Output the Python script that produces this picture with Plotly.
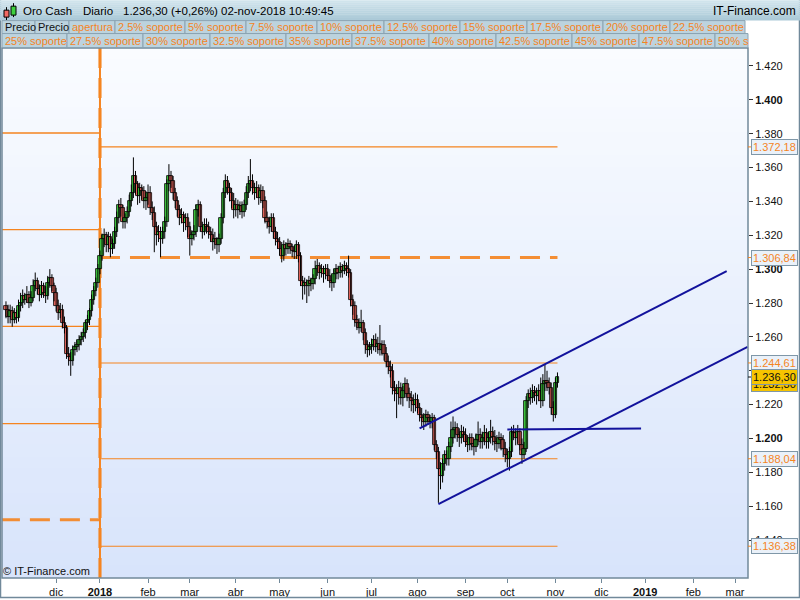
import plotly.graph_objects as go
import pandas as pd

# ---------------- data ----------------
first_day = "2017-10-30"   # first trading day on the chart (weekdays only)

opens = [
    1278, 1276,
    1272, 1275, 1270, 1274, 1271, 1278, 1280, 1284, 1282, 1285, 1280, 1283, 1290, 1293, 1288, 1285, 1290, 1286, 1284, 1292, 1295, 1290,
    1286, 1278, 1274, 1276, 1268, 1265, 1250, 1248, 1246, 1252, 1254, 1255, 1258, 1260, 1262, 1268, 1270, 1275, 1282, 1287, 1292,
    1300, 1308, 1318, 1320, 1314, 1319, 1312, 1315, 1322, 1330, 1338, 1336, 1328, 1330, 1334, 1340, 1345, 1355, 1350, 1343, 1348, 1346, 1340,
    1342, 1345, 1336, 1333, 1325, 1320, 1322, 1318, 1322, 1328, 1350, 1355, 1352, 1345, 1340, 1335, 1330, 1332, 1327, 1330,
    1325, 1318, 1320, 1322, 1335, 1338, 1325, 1322, 1326, 1325, 1322, 1320, 1316, 1318, 1314, 1318, 1330, 1345, 1352, 1348, 1345, 1340,
    1335, 1338, 1335, 1337, 1334, 1338, 1345, 1350, 1352, 1348, 1345, 1348, 1342, 1346, 1340, 1330, 1328, 1325, 1330, 1322, 1318,
    1316, 1312, 1308, 1314, 1312, 1315, 1313, 1311, 1310, 1314, 1308, 1293, 1290, 1292, 1290, 1293, 1291, 1294, 1300, 1302, 1298, 1300, 1297,
    1300, 1296, 1293, 1292, 1297, 1300, 1298, 1301, 1299, 1302, 1300, 1298, 1282, 1278, 1270, 1268, 1265, 1268, 1262, 1255, 1252,
    1254, 1255, 1258, 1254, 1256, 1252, 1255, 1250, 1245, 1242, 1240, 1230, 1228, 1226, 1230, 1224, 1228, 1232, 1226, 1224, 1222, 1220,
    1223, 1218, 1214, 1212, 1210, 1214, 1212, 1210, 1212, 1196, 1192, 1182, 1178, 1185, 1190, 1188, 1195, 1200, 1205, 1206, 1202, 1200, 1204,
    1202, 1198, 1196, 1200, 1197, 1195, 1199, 1202, 1198, 1200, 1203, 1198, 1200, 1204, 1201, 1198, 1197, 1200, 1199, 1194,
    1190, 1188, 1192, 1204, 1203, 1200, 1204, 1196, 1190, 1194, 1222, 1226, 1224, 1228, 1227, 1225, 1228, 1222, 1232, 1234, 1233, 1230, 1218,
    1214, 1233,
]
highs = [
    1281, 1279,
    1279, 1278, 1277, 1276, 1282, 1286, 1288, 1286, 1290, 1287, 1287, 1294, 1298, 1295, 1291, 1293, 1292, 1290, 1296, 1300, 1297, 1292,
    1289, 1282, 1280, 1279, 1272, 1267, 1254, 1251, 1255, 1257, 1258, 1261, 1263, 1265, 1270, 1273, 1277, 1285, 1290, 1295, 1303,
    1311, 1321, 1324, 1322, 1322, 1321, 1318, 1325, 1334, 1341, 1342, 1338, 1333, 1337, 1344, 1350, 1366, 1358, 1352, 1351, 1350, 1349, 1346,
    1350, 1349, 1340, 1337, 1328, 1326, 1325, 1325, 1331, 1353, 1362, 1358, 1355, 1348, 1343, 1338, 1336, 1334, 1333, 1333,
    1328, 1323, 1326, 1338, 1341, 1340, 1328, 1330, 1330, 1328, 1325, 1324, 1322, 1319, 1321, 1333, 1348, 1356, 1355, 1351, 1348, 1345,
    1342, 1341, 1340, 1340, 1341, 1349, 1355, 1365, 1356, 1351, 1352, 1350, 1350, 1349, 1343, 1334, 1331, 1333, 1333, 1325, 1322,
    1319, 1316, 1317, 1316, 1318, 1317, 1315, 1314, 1317, 1316, 1310, 1296, 1295, 1294, 1296, 1295, 1297, 1305, 1306, 1304, 1303, 1302, 1303,
    1303, 1300, 1297, 1300, 1303, 1302, 1304, 1303, 1305, 1304, 1308, 1300, 1285, 1281, 1273, 1271, 1276, 1270, 1265, 1258, 1257,
    1259, 1261, 1262, 1260, 1267, 1258, 1258, 1254, 1249, 1246, 1244, 1234, 1232, 1234, 1233, 1231, 1236, 1235, 1230, 1228, 1226, 1227,
    1226, 1221, 1218, 1215, 1217, 1216, 1214, 1215, 1214, 1199, 1195, 1186, 1188, 1193, 1193, 1198, 1210, 1213, 1210, 1209, 1206, 1208, 1207,
    1206, 1202, 1203, 1203, 1200, 1203, 1210, 1206, 1204, 1208, 1206, 1204, 1211, 1207, 1205, 1202, 1204, 1203, 1202, 1198,
    1194, 1195, 1207, 1208, 1206, 1208, 1206, 1200, 1198, 1225, 1229, 1230, 1232, 1231, 1230, 1232, 1236, 1238, 1244, 1240, 1236, 1233, 1222,
    1236, 1239,
]
lows = [
    1271, 1268,
    1268, 1266, 1268, 1268, 1269, 1275, 1277, 1279, 1280, 1277, 1278, 1281, 1287, 1285, 1281, 1283, 1283, 1280, 1282, 1289, 1287, 1281,
    1275, 1270, 1271, 1265, 1262, 1247, 1243, 1237, 1243, 1249, 1251, 1252, 1255, 1257, 1259, 1264, 1267, 1272, 1279, 1284, 1289,
    1297, 1305, 1313, 1310, 1310, 1307, 1309, 1312, 1319, 1327, 1331, 1324, 1324, 1327, 1331, 1337, 1342, 1344, 1338, 1339, 1341, 1336, 1335,
    1338, 1332, 1329, 1310, 1314, 1316, 1307, 1315, 1318, 1325, 1346, 1348, 1341, 1336, 1331, 1326, 1327, 1322, 1323, 1319,
    1308, 1314, 1317, 1319, 1331, 1322, 1318, 1320, 1321, 1318, 1316, 1311, 1312, 1309, 1310, 1315, 1327, 1342, 1344, 1340, 1336, 1330,
    1331, 1330, 1332, 1330, 1331, 1335, 1342, 1346, 1344, 1341, 1342, 1338, 1339, 1336, 1327, 1324, 1321, 1322, 1318, 1314, 1312,
    1308, 1304, 1305, 1308, 1309, 1309, 1307, 1306, 1306, 1304, 1290, 1282, 1285, 1280, 1284, 1287, 1288, 1291, 1296, 1294, 1295, 1292, 1294,
    1293, 1289, 1287, 1289, 1294, 1294, 1295, 1295, 1297, 1296, 1295, 1278, 1273, 1266, 1264, 1262, 1263, 1258, 1250, 1248, 1249,
    1250, 1252, 1251, 1250, 1249, 1249, 1246, 1242, 1238, 1236, 1226, 1222, 1212, 1220, 1220, 1219, 1224, 1222, 1218, 1216, 1215, 1216,
    1215, 1210, 1207, 1205, 1207, 1208, 1206, 1206, 1193, 1188, 1162, 1170, 1174, 1181, 1184, 1184, 1192, 1197, 1200, 1198, 1195, 1197, 1198,
    1195, 1192, 1193, 1193, 1190, 1192, 1196, 1194, 1194, 1196, 1194, 1194, 1197, 1196, 1193, 1192, 1194, 1193, 1189, 1186,
    1183, 1181, 1189, 1199, 1196, 1197, 1193, 1185, 1188, 1192, 1218, 1220, 1221, 1222, 1220, 1222, 1218, 1219, 1228, 1228, 1226, 1214, 1210,
    1212, 1230,
]
closes = [
    1276, 1272,
    1275, 1270, 1274, 1271, 1278, 1280, 1284, 1282, 1285, 1280, 1283, 1290, 1293, 1288, 1285, 1290, 1286, 1284, 1292, 1295, 1290, 1286,
    1278, 1274, 1276, 1268, 1265, 1250, 1248, 1246, 1252, 1254, 1255, 1258, 1260, 1262, 1268, 1270, 1275, 1282, 1287, 1292, 1300,
    1308, 1318, 1320, 1314, 1319, 1312, 1315, 1322, 1330, 1338, 1336, 1328, 1330, 1334, 1340, 1345, 1355, 1350, 1343, 1348, 1346, 1340, 1342,
    1345, 1336, 1333, 1325, 1320, 1322, 1318, 1322, 1328, 1350, 1355, 1352, 1345, 1340, 1335, 1330, 1332, 1327, 1330, 1325,
    1318, 1320, 1322, 1335, 1338, 1325, 1322, 1326, 1325, 1322, 1320, 1316, 1318, 1314, 1318, 1330, 1345, 1352, 1348, 1345, 1340, 1335,
    1338, 1335, 1337, 1334, 1338, 1345, 1350, 1352, 1348, 1345, 1348, 1342, 1346, 1340, 1330, 1328, 1325, 1330, 1322, 1318, 1316,
    1312, 1308, 1314, 1312, 1315, 1313, 1311, 1310, 1314, 1308, 1293, 1290, 1292, 1290, 1293, 1291, 1294, 1300, 1302, 1298, 1300, 1297, 1300,
    1296, 1293, 1292, 1297, 1300, 1298, 1301, 1299, 1302, 1300, 1298, 1282, 1278, 1270, 1268, 1265, 1268, 1262, 1255, 1252, 1254,
    1255, 1258, 1254, 1256, 1252, 1255, 1250, 1245, 1242, 1240, 1230, 1228, 1226, 1230, 1224, 1228, 1232, 1226, 1224, 1222, 1220, 1223,
    1218, 1214, 1212, 1210, 1214, 1212, 1210, 1212, 1196, 1192, 1182, 1178, 1185, 1190, 1188, 1195, 1200, 1205, 1206, 1202, 1200, 1204, 1202,
    1198, 1196, 1200, 1197, 1195, 1199, 1202, 1198, 1200, 1203, 1198, 1200, 1204, 1201, 1198, 1197, 1200, 1199, 1194, 1190,
    1188, 1192, 1204, 1203, 1200, 1204, 1196, 1190, 1194, 1222, 1226, 1224, 1228, 1227, 1225, 1228, 1222, 1232, 1234, 1233, 1230, 1218, 1214,
    1233, 1236.3,
]

last_price = 1236.30
last_price_shadow = 1232.30

year_open_2018 = 1306.84
levels_2018 = [1437.52, 1372.18, 1244.61, 1188.04, 1136.38]
year_open_2017 = 1152.0
levels_2017 = [1380.4, 1323.3, 1266.2, 1208.8]

upper_channel = [("2018-08-02", 1205.9), ("2019-02-25", 1298.8)]
lower_channel = [("2018-08-15", 1161.2), ("2019-03-11", 1254.1)]
flat_line = [("2018-10-01", 1205.3), ("2018-12-28", 1205.9)]

month_starts = ["2017-12-01", "2018-01-01", "2018-02-01", "2018-03-01", "2018-04-01", "2018-05-01",
                "2018-06-01", "2018-07-01", "2018-08-01", "2018-09-01", "2018-10-01", "2018-11-01",
                "2018-12-01", "2019-01-01", "2019-02-01", "2019-03-01"]
month_labels = ["dic", "2018", "feb", "mar", "abr", "may", "jun", "jul", "ago", "sep", "oct", "nov",
                "dic", "2019", "feb", "mar"]
year_labels = ["2018", "2019"]

y_tick_values = [1140, 1160, 1180, 1200, 1220, 1240, 1260, 1280, 1300, 1320, 1340, 1360, 1380, 1400, 1420]
bold_y_ticks = [1200, 1300, 1400]

title_parts = ["Oro Cash", "Diario", "1.236,30 (+0,26%)", "02-nov-2018 10:49:45"]
brand = "IT-Finance.com"
copyright_text = "© IT-Finance.com"
legend_row1 = ["Precio", "Precio", "apertura", "2.5% soporte", "5% soporte", "7.5% soporte", "10% soporte",
               "12.5% soporte", "15% soporte", "17.5% soporte", "20% soporte", "22.5% soporte"]
legend_row2 = ["25% soporte", "27.5% soporte", "30% soporte", "32.5% soporte", "35% soporte", "37.5% soporte",
               "40% soporte", "42.5% soporte", "45% soporte", "47.5% soporte", "50% s"]

# ---------------- layout helpers ----------------
W, H = 800, 600
PL, PR, PT, PB = 2, 748, 48, 580
ORANGE = "#f5841f"
NAVY = "#12129c"
FONT = "Liberation Sans, Arial, sans-serif"
UP_FILL, DOWN_FILL = "#3fd03f", "#f26a62"

row1_edges = [2, 35, 69, 115, 185, 246, 317, 384, 460, 527, 603, 670, 745]
row2_edges = [2, 67, 143, 210, 286, 352, 429, 496, 572, 639, 715, 748]


def px_x(x):
    return (x - PL) / (PR - PL)


def px_y(y):
    return (PB - y) / (PB - PT)


def es_num(v):
    s = f"{v:,.2f}"
    return s.replace(",", "X").replace(".", ",").replace("X", ".")


days = pd.bdate_range(first_day, periods=420)


def day_pos(s):
    d = pd.Timestamp(s)
    return int((days < d).sum())


n = len(closes)
xs = list(range(n))
jan2018 = day_pos("2018-01-01")
x_min, x_max = -1.9, 355.2

shapes = []
annotations = []

# plot background gradient
N = 44
top_c, bot_c = (250, 252, 255), (216, 228, 251)
for k in range(N):
    t = k / (N - 1)
    c = tuple(round(top_c[j] + (bot_c[j] - top_c[j]) * t) for j in range(3))
    shapes.append(dict(type="rect", xref="paper", yref="paper", x0=0, x1=1,
                       y0=1 - (k + 1) / N, y1=1 - k / N + 0.002,
                       fillcolor=f"rgb{c}", line_width=0, layer="below"))

# 2017 levels (left of year start)
for v in levels_2017:
    shapes.append(dict(type="line", xref="x", yref="y", x0=x_min - 1, x1=jan2018, y0=v, y1=v,
                       line=dict(color=ORANGE, width=1.3), layer="below"))
shapes.append(dict(type="line", xref="x", yref="y", x0=x_min - 1, x1=jan2018, y0=year_open_2017, y1=year_open_2017,
                   line=dict(color=ORANGE, width=3, dash="20px,10px"), opacity=0.9, layer="below"))
# 2018 levels
for v in levels_2018:
    shapes.append(dict(type="line", xref="x", yref="y", x0=jan2018, x1=n - 1, y0=v, y1=v,
                       line=dict(color=ORANGE, width=1.1), layer="below"))
shapes.append(dict(type="line", xref="x", yref="y", x0=jan2018, x1=n - 1, y0=year_open_2018, y1=year_open_2018,
                   line=dict(color=ORANGE, width=3, dash="20px,10px"), opacity=0.9, layer="below"))
# vertical year-start line
shapes.append(dict(type="line", xref="x", yref="paper", x0=jan2018, x1=jan2018, y0=0, y1=1,
                   line=dict(color=ORANGE, width=4, dash="20px,10px"), opacity=0.55, layer="below"))
shapes.append(dict(type="line", xref="x", yref="paper", x0=jan2018, x1=jan2018, y0=0, y1=1,
                   line=dict(color=ORANGE, width=2), layer="below"))

# trend lines
for seg in (upper_channel, lower_channel, flat_line):
    (d0, v0), (d1, v1) = seg
    shapes.append(dict(type="line", xref="x", yref="y", x0=day_pos(d0), x1=day_pos(d1), y0=v0, y1=v1,
                       line=dict(color=NAVY, width=2)))

# plot frame
shapes.append(dict(type="rect", xref="paper", yref="paper", x0=0, x1=1, y0=0, y1=1,
                   line=dict(color="#71899a", width=1.5)))
# outer frame
shapes.append(dict(type="line", xref="paper", yref="paper", x0=px_x(0.5), x1=px_x(0.5), y0=px_y(600), y1=px_y(0),
                   line=dict(color="#71899a", width=1.5)))
shapes.append(dict(type="line", xref="paper", yref="paper", x0=px_x(799.5), x1=px_x(799.5), y0=px_y(600), y1=px_y(0),
                   line=dict(color="#71899a", width=1.5)))
shapes.append(dict(type="line", xref="paper", yref="paper", x0=px_x(0), x1=px_x(800), y0=px_y(599.5), y1=px_y(599.5),
                   line=dict(color="#71899a", width=1.5)))

# header bar gradient
hb_top, hb_bot = (208, 228, 236), (172, 202, 216)
NB = 10
for k in range(NB):
    t = k / (NB - 1)
    c = tuple(round(hb_top[j] + (hb_bot[j] - hb_top[j]) * t) for j in range(3))
    y0 = 20 * k / NB
    y1 = 20 * (k + 1) / NB + 0.3
    shapes.append(dict(type="rect", xref="paper", yref="paper", x0=px_x(0), x1=px_x(800),
                       y0=px_y(y1), y1=px_y(y0), fillcolor=f"rgb{c}", line_width=0))

# candle icon
shapes += [
    dict(type="line", xref="paper", yref="paper", x0=px_x(6.5), x1=px_x(6.5), y0=px_y(20), y1=px_y(7), line=dict(color="black", width=1)),
    dict(type="rect", xref="paper", yref="paper", x0=px_x(4), x1=px_x(9), y0=px_y(17), y1=px_y(10), fillcolor=DOWN_FILL, line=dict(color="black", width=1)),
    dict(type="line", xref="paper", yref="paper", x0=px_x(13.5), x1=px_x(13.5), y0=px_y(17), y1=px_y(3), line=dict(color="black", width=1)),
    dict(type="rect", xref="paper", yref="paper", x0=px_x(11), x1=px_x(16), y0=px_y(15), y1=px_y(6), fillcolor=UP_FILL, line=dict(color="black", width=1)),
]


def cell_row(labels, edges, y0, y1):
    for i, lab in enumerate(labels):
        a, b = edges[i], edges[i + 1]
        shapes.append(dict(type="rect", xref="paper", yref="paper", x0=px_x(a), x1=px_x(b),
                           y0=px_y(y1), y1=px_y(y0), fillcolor="#bcd3de",
                           line=dict(color="#8aa3b2", width=1)))
        col = "#111111" if lab == "Precio" else ORANGE
        annotations.append(dict(xref="paper", yref="paper", x=px_x(a + 1), y=px_y((y0 + y1) / 2),
                                text=lab, showarrow=False, xanchor="left", yanchor="middle",
                                font=dict(family=FONT, size=11, color=col)))


cell_row(legend_row1, row1_edges, 20.5, 33.5)
cell_row(legend_row2, row2_edges, 33.5, 47.5)

# title texts
for txt, x in zip(title_parts, [21, 81, 121, 219]):
    annotations.append(dict(xref="paper", yref="paper", x=px_x(x), y=px_y(10.5), text=txt, showarrow=False,
                            xanchor="left", yanchor="middle", font=dict(family=FONT, size=11.5, color="#000000")))
annotations.append(dict(xref="paper", yref="paper", x=px_x(798), y=px_y(10.5), text=brand, showarrow=False,
                        xanchor="right", yanchor="middle", font=dict(family=FONT, size=12, color="#000000")))
annotations.append(dict(xref="paper", yref="paper", x=px_x(1), y=px_y(573), text=copyright_text, showarrow=False,
                        xanchor="left", yanchor="middle", font=dict(family=FONT, size=11, color="#111111")))

# price tags on the right
tag_values = [year_open_2018] + levels_2018
for v in tag_values:
    shapes.append(dict(type="line", xref="paper", yref="y", x0=1, x1=px_x(753), y0=v, y1=v,
                       line=dict(color=ORANGE, width=1)))
    annotations.append(dict(xref="paper", yref="y", x=px_x(751), y=v, text=es_num(v), showarrow=False,
                            xanchor="left", yanchor="middle", bgcolor="#eaf1f9", bordercolor="#7f97a8",
                            borderwidth=1, borderpad=1, font=dict(family=FONT, size=11, color=ORANGE)))
for v in (last_price_shadow, last_price):
    annotations.append(dict(xref="paper", yref="y", x=px_x(751), y=v, text=es_num(v), showarrow=False,
                            xanchor="left", yanchor="middle", bgcolor="#f6c400", bordercolor="#7f97a8",
                            borderwidth=1, borderpad=1, font=dict(family=FONT, size=11, color="#111111")))
shapes.append(dict(type="line", xref="paper", yref="y", x0=1, x1=px_x(753), y0=last_price, y1=last_price,
                   line=dict(color="#111111", width=1)))

# axis ticks
y_text = []
for v in y_tick_values:
    s = f"{v:,}".replace(",", ".")
    y_text.append(f"<b>{s}</b>" if v in bold_y_ticks else s)
x_vals = [day_pos(m) for m in month_starts]
x_text = [f"<b>{t}</b>" if t in year_labels else t for t in month_labels]

# candles: wicks + bodies
wick_x, wick_y = [], []
for i, (h, l) in enumerate(zip(highs, lows)):
    wick_x += [i, i, None]
    wick_y += [l, h, None]
body_base = [min(o, c) for o, c in zip(opens, closes)]
body_h = [max(abs(c - o), 0.6) for o, c in zip(opens, closes)]
body_col = [UP_FILL if c >= o else DOWN_FILL for o, c in zip(opens, closes)]

fig = go.Figure()
fig.add_trace(go.Scatter(x=wick_x, y=wick_y, mode="lines", line=dict(color="#000000", width=1),
                         hoverinfo="skip"))
fig.add_trace(go.Bar(x=xs, y=body_h, base=body_base, width=1.6,
                     marker=dict(color=body_col, line=dict(color="#000000", width=0.8)),
                     hoverinfo="skip"))

fig.update_layout(
    width=W, height=H,
    margin=dict(l=PL, r=W - PR, t=PT, b=H - PB, pad=0),
    paper_bgcolor="white", plot_bgcolor="#eef3fd",
    showlegend=False, hovermode=False, bargap=0, barmode="overlay",
    font=dict(family=FONT, size=11, color="#111111"),
    shapes=shapes, annotations=annotations,
    xaxis=dict(range=[x_min, x_max], tickmode="array", tickvals=x_vals, ticktext=x_text,
               ticks="outside", ticklen=4, tickcolor="#71899a", showgrid=False, zeroline=False,
               showline=False, tickfont=dict(size=11, family=FONT)),
    yaxis=dict(range=[1117.6, 1430.6], side="right", tickmode="array", tickvals=y_tick_values,
               ticktext=y_text, ticks="outside", ticklen=4, tickcolor="#333333", showgrid=False,
               zeroline=False, showline=False, tickfont=dict(size=11, family=FONT)),
)

fig.write_html("out.html", config={"displayModeBar": False},
               post_script="document.body.style.margin='0px';")
